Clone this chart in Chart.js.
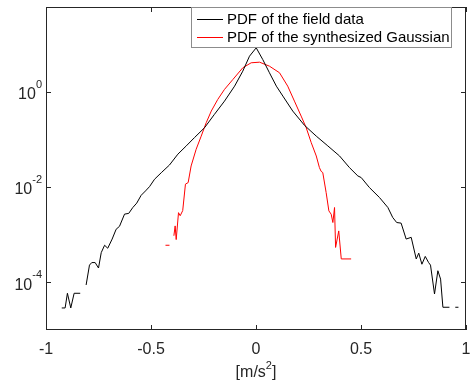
<!DOCTYPE html>
<html>
<head>
<meta charset="utf-8">
<script src="https://cdn.jsdelivr.net/npm/chart.js@4.4.0/dist/chart.umd.min.js"></script>
<style>
html, body { margin: 0; padding: 0; background: #fff; }
#wrap { width: 472px; height: 380px; }
</style>
</head>
<body>
<div id="wrap"><canvas id="pdfChart"></canvas></div>
<script>
// PDF of the field data (black), null = break in the line
const fieldX = [-0.925, -0.909, -0.898, -0.882, -0.866, -0.837, -0.823,
  -0.809, -0.793, -0.782, -0.766, -0.750, -0.737, -0.721, -0.706, -0.685, -0.666,
  -0.650, -0.626, -0.606, -0.587, -0.568, -0.547, -0.526, -0.507, -0.483, -0.451,
  -0.412, -0.372, -0.332, -0.293, -0.245, -0.198, -0.150, -0.102, -0.063, -0.031,
  0.001, 0.032, 0.064, 0.097, 0.128, 0.175, 0.231, 0.287, 0.342, 0.398, 0.445,
  0.485, 0.501, 0.540, 0.588, 0.628, 0.651, 0.670, 0.691, 0.715, 0.739, 0.763,
  0.775, 0.790, 0.806, 0.822, 0.831, 0.850, 0.866, 0.879, 0.890, 0.921, 0.935,
  0.949, 0.964];
const fieldPdf = [2.9e-5, 2.9e-5, 5.9e-5, 2.9e-5, 5.9e-5, 5.9e-5, null,
  8.8e-5, 2.3e-4, 2.6e-4, 2.6e-4, 2.0e-4, 4.2e-4, 6.0e-4, 5.2e-4, 8.1e-4, 1.3e-3,
  1.5e-3, 2.7e-3, 2.8e-3, 3.7e-3, 4.6e-3, 6.7e-3, 8.3e-3, 1.02e-2, 1.46e-2, 2.0e-2,
  2.9e-2, 4.9e-2, 7.3e-2, 0.109, 0.176, 0.335, 0.636, 1.31, 2.70, 5.57,
  8.35, 4.75, 2.50, 1.31, 0.81, 0.393, 0.197, 0.117, 0.073, 0.0448, 0.0256,
  0.0171, 0.0158, 0.00977, 0.00603, 0.00372, 0.0023, 0.0018, 0.00175, 8.1e-4, 8.8e-4, 3.1e-4,
  4.1e-4, 2.4e-4, 3.5e-4, 2.6e-4, 2.3e-4, 5.7e-5, 1.75e-4, 1.17e-4, 3.0e-5, 3.0e-5, null,
  3.0e-5, 3.0e-5];

// PDF of the synthesized Gaussian (red)
const gaussX = [-0.431, -0.412, -0.400, -0.391, -0.385, -0.380, -0.369, -0.361,
  -0.349, -0.336, -0.323, -0.309, -0.285, -0.261, -0.237, -0.213, -0.182, -0.150,
  -0.110, -0.063, -0.023, 0.017, 0.064, 0.112, 0.151, 0.183, 0.215, 0.239, 0.263,
  0.287, 0.302, 0.310, 0.318, 0.334, 0.347, 0.358, 0.366, 0.374, 0.379, 0.394,
  0.406, 0.453];
const gaussPdf = [6.0e-4, 6.0e-4, null, 9.5e-4, 1.53e-3, 7.9e-4, 2.9e-3, 2.5e-3,
  3.2e-3, 1.15e-2, 1.24e-2, 0.0277, 0.062, 0.117, 0.224, 0.393, 0.69, 1.12,
  1.81, 3.18, 4.05, 4.17, 3.44, 2.50, 1.31, 0.636, 0.308, 0.176, 0.0855,
  0.0448, 0.0256, 0.0214, 0.0201, 0.00767, 0.00316, 0.00269, 0.0018, 0.00372, 5.4e-4, 1.2e-3,
  3.1e-4, 3.1e-4];

const xTicks = [-1, -0.5, 0, 0.5, 1];
const yTicks = [1e-4, 1e-2, 1];
const yTickExponents = ['-4', '-2', '0'];
const seriesNames = ['PDF of the field data', 'PDF of the synthesized Gaussian'];
const seriesColors = ['#000000', '#ff0000'];

const FONT = '"Liberation Sans", Arial, sans-serif';
const AXIS = '#262626';

function toPoints(xs, ys) {
  return xs.map((x, i) => ({ x: x, y: ys[i] }));
}

// box round the axes with inward ticks, like MATLAB, 10^n labels and the unit
const framePlugin = {
  id: 'frame',
  afterDatasetsDraw(chart) {
    const ctx = chart.ctx;
    const a = chart.chartArea;
    const sx = chart.scales.x, sy = chart.scales.y;
    const len = 5;
    ctx.save();
    ctx.strokeStyle = AXIS;
    ctx.lineWidth = 1;
    ctx.strokeRect(a.left + 0.5, a.top + 0.5, a.right - a.left - 1, a.bottom - a.top - 1);
    ctx.beginPath();
    xTicks.forEach(v => {
      const px = Math.round(sx.getPixelForValue(v)) + 0.5;
      ctx.moveTo(px, a.bottom); ctx.lineTo(px, a.bottom - len);
      ctx.moveTo(px, a.top); ctx.lineTo(px, a.top + len);
    });
    yTicks.forEach(v => {
      const py = Math.round(sy.getPixelForValue(v)) + 0.5;
      ctx.moveTo(a.left, py); ctx.lineTo(a.left + len, py);
      ctx.moveTo(a.right, py); ctx.lineTo(a.right - len, py);
    });
    ctx.stroke();

    // y tick labels: "10" with a raised exponent
    ctx.fillStyle = AXIS;
    ctx.textBaseline = 'middle';
    yTicks.forEach((v, i) => {
      const py = sy.getPixelForValue(v);
      ctx.font = '11px ' + FONT;
      const ew = ctx.measureText(yTickExponents[i]).width;
      const right = a.left - 4;
      ctx.textAlign = 'right';
      ctx.fillText(yTickExponents[i], right, py - 7);
      ctx.font = '16px ' + FONT;
      ctx.fillText('10', right - ew, py + 3);
    });

    // x axis unit [m/s^2]
    const cx = (a.left + a.right) / 2, ty = 373;
    ctx.textAlign = 'left';
    ctx.font = '16px ' + FONT;
    const w1 = ctx.measureText('[m/s').width;
    const w3 = ctx.measureText(']').width;
    ctx.font = '11px ' + FONT;
    const w2 = ctx.measureText('2').width;
    let x = cx - (w1 + w2 + w3) / 2;
    ctx.font = '16px ' + FONT;
    ctx.fillText('[m/s', x, ty);
    ctx.font = '11px ' + FONT;
    ctx.fillText('2', x + w1, ty - 7);
    ctx.font = '16px ' + FONT;
    ctx.fillText(']', x + w1 + w2, ty);
    ctx.restore();
  }
};

// legend box inside the plot, top right
const legendPlugin = {
  id: 'boxLegend',
  afterDraw(chart) {
    const ctx = chart.ctx;
    const x0 = 191.5, y0 = 7.5, w = 260, h = 40;
    ctx.save();
    ctx.fillStyle = '#fff';
    ctx.fillRect(x0, y0, w, h);
    ctx.strokeStyle = '#8c8c8c';
    ctx.lineWidth = 1;
    ctx.strokeRect(x0, y0, w, h);
    ctx.font = '15px ' + FONT;
    ctx.textBaseline = 'middle';
    seriesNames.forEach((name, i) => {
      const y = Math.round(19 + i * 18) + 0.5;
      ctx.strokeStyle = seriesColors[i];
      ctx.beginPath();
      ctx.moveTo(197, y);
      ctx.lineTo(223, y);
      ctx.stroke();
      ctx.fillStyle = '#000';
      ctx.fillText(name, 227, y);
    });
    ctx.restore();
  }
};

new Chart(document.getElementById('pdfChart').getContext('2d'), {
  type: 'line',
  data: {
    datasets: [
      {
        label: seriesNames[0],
        data: toPoints(fieldX, fieldPdf),
        borderColor: seriesColors[0],
        borderWidth: 1,
        pointRadius: 0,
        tension: 0,
        spanGaps: false,
        fill: false
      },
      {
        label: seriesNames[1],
        data: toPoints(gaussX, gaussPdf),
        borderColor: seriesColors[1],
        borderWidth: 1,
        pointRadius: 0,
        tension: 0,
        spanGaps: false,
        fill: false
      }
    ]
  },
  options: {
    responsive: true,
    maintainAspectRatio: false,
    animation: false,
    layout: { padding: { top: 7, right: 6, left: 0, bottom: 0 } },
    plugins: {
      legend: { display: false },
      tooltip: { enabled: false }
    },
    scales: {
      x: {
        type: 'linear',
        min: -1,
        max: 1,
        grid: { display: false },
        border: { display: false },
        afterBuildTicks: scale => { scale.ticks = xTicks.map(v => ({ value: v })); },
        afterFit: scale => {
          scale.height = 50;
          scale.paddingLeft = 0;
          scale.paddingRight = 0;
        },
        ticks: {
          font: { family: FONT, size: 16 },
          color: AXIS,
          padding: 2,
          maxRotation: 0,
          callback: v => String(v)
        }
      },
      y: {
        type: 'logarithmic',
        min: 1e-5,
        max: 60,
        grid: { display: false },
        border: { display: false },
        afterBuildTicks: scale => { scale.ticks = yTicks.map(v => ({ value: v })); },
        afterFit: scale => {
          scale.width = 46;
          scale.paddingTop = 0;
          scale.paddingBottom = 0;
        },
        ticks: { display: false }
      }
    }
  },
  plugins: [framePlugin, legendPlugin]
});
</script>
</body>
</html>
